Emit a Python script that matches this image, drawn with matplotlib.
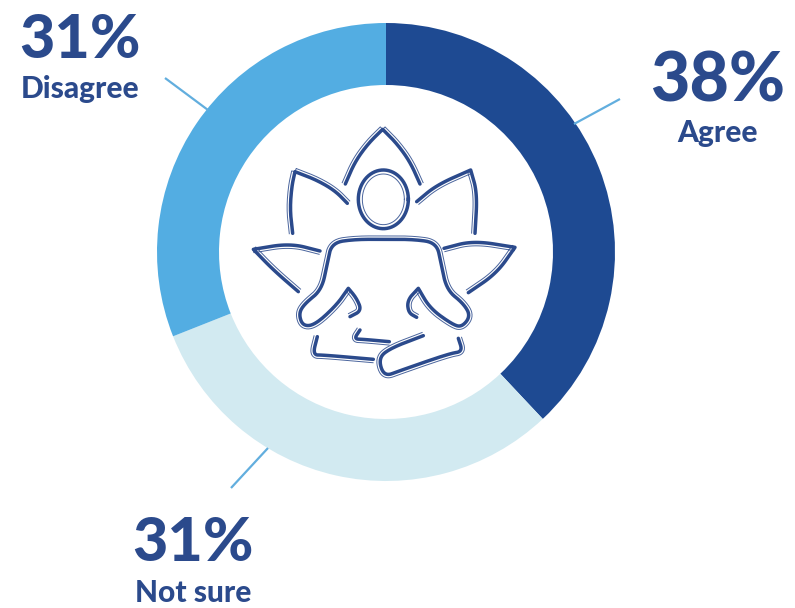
import numpy as np
import matplotlib
matplotlib.use("Agg")
import matplotlib.pyplot as plt

labels = ["Agree", "Not sure", "Disagree"]
shares = [38, 31, 31]
colors = ["#1e4a92", "#d2eaf1", "#53ade2"]
INK = "#2b4a8c"
LEADER = "#62aede"
plt.rcParams["font.family"] = ["Lato", "DejaVu Sans"]

W, H = 795, 608
CX, CY, R_OUT, R_IN = 386, 252, 229, 167

fig = plt.figure(figsize=(W / 100, H / 100), dpi=100)

# donut
ax = fig.add_axes([(CX - R_OUT) / W, (H - CY - R_OUT) / H, 2 * R_OUT / W, 2 * R_OUT / H])
ax.pie(shares, colors=colors, startangle=90, counterclock=False, radius=1,
       wedgeprops=dict(width=1 - R_IN / R_OUT, linewidth=0))
ax.set_xlim(-1, 1)
ax.set_ylim(-1, 1)

# overlay in pixel coordinates for the labels, leaders and icon
over = fig.add_axes([0, 0, 1, 1])
over.set_xlim(0, W)
over.set_ylim(H, 0)
over.axis("off")

for x0, y0, x1, y1 in [(620, 99, 574, 124), (165, 78, 208, 110), (268, 448, 231, 488)]:
    over.plot([x0, x1], [y0, y1], color=LEADER, lw=1.6, solid_capstyle="butt")

text_specs = [("38%", "Agree", 718, 102, 142, 49),
              ("31%", "Disagree", 80, 58, 98, 44),
              ("31%", "Not sure", 193, 561, 602, 44)]
for pct, name, x, y_pct, y_name, size in text_specs:
    over.text(x, y_pct, pct, color=INK, fontsize=size, fontweight="black",
              ha="center", va="baseline")
    over.text(x, y_name, name, color=INK, fontsize=21.5, fontweight="black",
              ha="center", va="baseline")


def smooth(points, rounds=4):
    pts = np.array(points, dtype=float)
    for _ in range(rounds):
        q = 0.75 * pts[:-1] + 0.25 * pts[1:]
        r = 0.25 * pts[:-1] + 0.75 * pts[1:]
        mid = np.empty((2 * len(q), 2))
        mid[0::2] = q
        mid[1::2] = r
        pts = np.vstack([pts[0], mid, pts[-1]])
    return pts


def to_px(pts):
    # icon outline is sketched on a 3x grid
    return np.asarray(pts) / 3 + np.array([240, 120])


def stroke(points, side, gap=3.4):
    line = to_px(smooth(points))
    over.plot(line[:, 0], line[:, 1], color=INK, lw=2.5, solid_capstyle="round",
              solid_joinstyle="round")
    d = np.gradient(line, axis=0)
    n = np.column_stack([d[:, 1], -d[:, 0]])
    n /= np.maximum(np.hypot(n[:, 0], n[:, 1]), 1e-6)[:, None]
    thin = line + side * gap * n
    over.plot(thin[:, 0], thin[:, 1], color=INK, lw=0.7, alpha=0.85)


top_petal = [(316, 192), (345, 125), (385, 70), (428, 28), (428, 28), (428, 28), (470, 70), (510, 125), (540, 192)]
left_petal = [(158, 340), (150, 270), (155, 200), (165, 155), (165, 155), (165, 155), (230, 180), (285, 212), (322, 250)]
right_petal = [(530, 245), (590, 195), (692, 150), (692, 150), (692, 150), (712, 220), (705, 340)]
low_left_petal = [(240, 393), (150, 370), (40, 388), (40, 388), (40, 388), (100, 450), (175, 515)]
low_right_petal = [(612, 385), (700, 362), (825, 382), (825, 382), (825, 382), (770, 460), (685, 518)]
body = [(330, 590), (365, 572), (350, 535), (325, 505), (325, 505), (325, 505), (290, 555), (225, 615), (188, 618),
        (176, 580), (195, 550), (245, 510), (262, 430), (275, 368), (345, 358), (430, 358), (520, 358), (590, 368),
        (603, 430), (620, 510), (670, 550), (692, 588), (665, 622), (635, 612), (570, 565), (535, 505),
        (535, 505), (535, 505), (502, 540), (505, 578), (530, 592)]
left_leg = [(232, 650), (218, 705), (250, 705), (400, 718)]
mid_leg = [(360, 630), (342, 657), (370, 658), (448, 665)]
right_leg = [(550, 647), (450, 685), (415, 715), (432, 770), (480, 752), (630, 700), (668, 695), (655, 655)]

stroke(top_petal, 1)
stroke(left_petal, 1)
stroke(right_petal, -1)
stroke(low_left_petal, 1)
stroke(low_right_petal, -1)
stroke(body, 1)
stroke(left_leg, -1)
stroke(mid_leg, -1)
stroke(right_leg, -1)

# head: thick outer ring, thin inner ring
t = np.linspace(0, 2 * np.pi, 200)
head = to_px(np.column_stack([430 + 75 * np.cos(t), 238 + 88 * np.sin(t)]))
head_in = to_px(np.column_stack([430 + 63 * np.cos(t), 238 + 76 * np.sin(t)]))
over.plot(head[:, 0], head[:, 1], color=INK, lw=2.5)
over.plot(head_in[:, 0], head_in[:, 1], color=INK, lw=0.7, alpha=0.85)

fig.savefig("out.png", dpi=100)
